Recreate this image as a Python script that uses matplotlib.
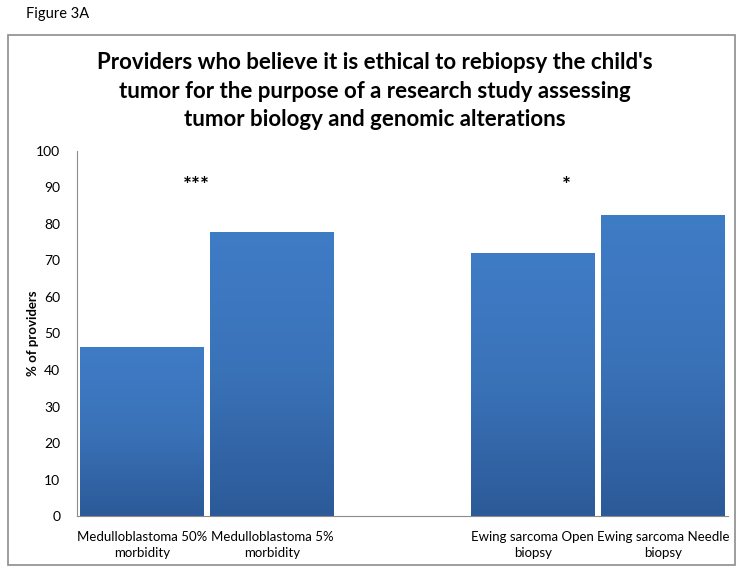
import matplotlib.pyplot as plt
import numpy as np
from matplotlib.patches import Rectangle
from matplotlib.colors import LinearSegmentedColormap

categories = ["Medulloblastoma 50%\nmorbidity", "Medulloblastoma 5%\nmorbidity", "",
              "Ewing sarcoma Open\nbiopsy", "Ewing sarcoma Needle\nbiopsy"]
values = [46.3, 77.8, 0, 72.1, 82.5]
stars = ["***", "*"]
star_x = [0.42, 3.26]
star_y = [90.5, 90.5]

plt.rcParams['font.family'] = ['Lato', 'DejaVu Sans']

fig = plt.figure(figsize=(7.51, 5.74), dpi=100)
ax = fig.add_axes([0.1025, 0.101, 0.867, 0.636])

# outer chart border
fig.patches.append(Rectangle((8 / 751, 1 - 565 / 574), 727 / 751, 530 / 574,
                             transform=fig.transFigure, fill=False,
                             edgecolor="#8c8c8c", linewidth=1.2))
fig.text(26 / 751, 1 - 14 / 574, "Figure 3A", fontsize=10.5, va="center", ha="left")

x = np.arange(len(categories))
bars = ax.bar(x, values, width=0.95, color="none", edgecolor="none")

# vertical gradient inside each bar
grad = np.linspace(0, 1, 256).reshape(-1, 1)
cmap = LinearSegmentedColormap.from_list("g", ["#2c5a98", "#3a72b8", "#3f7cc6"])
for b, v in zip(bars, values):
    if v <= 0:
        continue
    x0 = b.get_x()
    im = ax.imshow(grad, extent=[x0, x0 + b.get_width(), 0, v], origin="lower",
                   cmap=cmap, aspect="auto", zorder=2)
    im.set_clip_path(b)

for s, sx, sy in zip(stars, star_x, star_y):
    ax.text(sx, sy, s, ha="center", va="center", fontsize=15, fontweight="bold")

ax.set_xlim(-0.5, len(categories) - 0.5)
ax.set_ylim(0, 100)
ax.set_yticks(range(0, 101, 10))
ax.set_xticks(x)
ax.set_xticklabels(categories, fontsize=9.5, linespacing=1.35)
ax.tick_params(axis="both", length=0, labelsize=10)
ax.tick_params(axis="x", labelsize=9.5, pad=11)
ax.tick_params(axis="y", pad=12)
for sp in ["top", "right"]:
    ax.spines[sp].set_visible(False)
for sp in ["left", "bottom"]:
    ax.spines[sp].set_color("#8c8c8c")
ax.set_ylabel("% of providers", fontsize=9.5, fontweight="bold", labelpad=8)
ax.yaxis.set_label_coords(-0.058, 0.5)

fig.text(375 / 751, 1 - 91 / 574,
         "Providers who believe it is ethical to rebiopsy the child's\n"
         "tumor for the purpose of a research study assessing\n"
         "tumor biology and genomic alterations",
         ha="center", va="center", fontsize=16, fontweight="bold", linespacing=1.45)

fig.savefig("out.png", dpi=100)
